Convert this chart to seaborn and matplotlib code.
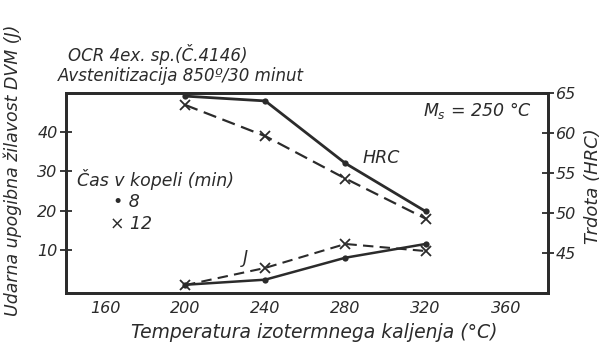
import matplotlib
matplotlib.use("Agg")
import matplotlib.pyplot as plt
import seaborn as sns
import pandas as pd

# Isothermal hardening temperatures (°C)
temperature = [200, 240, 280, 320]

# Hardness (HRC) for bath times of 8 and 12 minutes
hrc_8min = [64.6, 64.0, 56.2, 50.2]
hrc_12min = [63.5, 59.6, 54.3, 49.3]

# Impact toughness DVM (J) for bath times of 8 and 12 minutes
toughness_8min = [1.1, 2.4, 8.0, 11.5]
toughness_12min = [1.0, 5.4, 11.5, 9.7]

x_ticks = [160, 200, 240, 280, 320, 360]
left_ticks = [10, 20, 30, 40]
right_ticks = [45, 50, 55, 60, 65]

sns.set_theme(style="white")
plt.rcParams["font.family"] = ["DejaVu Sans"]
plt.rcParams["font.style"] = "italic"
plt.rcParams["mathtext.default"] = "it"

ink = "#2b2b2b"
fs_tick = 11.5
fs_text = 12.5

fig = plt.figure(figsize=(6.04, 3.48), dpi=100)
ax = fig.add_axes([0.109, 0.158, 0.798, 0.575])
ax2 = ax.twinx()

df = pd.DataFrame({
    "T": temperature,
    "hrc8": hrc_8min, "hrc12": hrc_12min,
    "j8": toughness_8min, "j12": toughness_12min,
})

dot = dict(marker="o", markersize=4.5, markeredgewidth=0, markerfacecolor=ink)
cross = dict(marker="x", markersize=7, markeredgewidth=1.3,
             markeredgecolor=ink)

# Hardness curves on the right axis
sns.lineplot(data=df, x="T", y="hrc8", ax=ax2, color=ink, lw=2.0, **dot)
sns.lineplot(data=df, x="T", y="hrc12", ax=ax2, color=ink, lw=1.6,
             linestyle=(0, (6, 3)), **cross)

# Toughness curves on the left axis
sns.lineplot(data=df, x="T", y="j8", ax=ax, color=ink, lw=1.8, **dot)
sns.lineplot(data=df, x="T", y="j12", ax=ax, color=ink, lw=1.5,
             linestyle=(0, (5, 3)), **cross)

ax.set_xlim(140.5, 381)
ax.set_ylim(-1, 50)
ax2.set_ylim(40, 65)

ax.set_xticks(x_ticks)
ax.set_xticklabels([str(v) for v in x_ticks])
ax.set_yticks(left_ticks)
ax.set_yticklabels([str(v) for v in left_ticks])
ax2.set_yticks(right_ticks)
ax2.set_yticklabels([str(v) for v in right_ticks])

for a in (ax, ax2):
    a.tick_params(direction="inout", length=8, width=1.3, colors=ink,
                  labelsize=fs_tick, pad=2)
    for s in a.spines.values():
        s.set_linewidth(2.0)
        s.set_color(ink)
    a.grid(False)

ax.set_xlabel("Temperatura izotermnega kaljenja (°C)", fontsize=13.5,
              color=ink)
ax.xaxis.set_label_coords(0.515, -0.15)
ax.set_ylabel("Udarna upogibna žilavost DVM (J)", fontsize=12.5,
              color=ink)
ax.yaxis.set_label_coords(-0.09, 0.615)
ax2.set_ylabel("Trdota (HRC)", fontsize=13, color=ink)
ax2.yaxis.set_label_coords(1.076, 0.535)

# Annotations inside the plot
ax.text(373, 45.6, r"$M_s$ = 250 °C", ha="right", va="center",
        fontsize=fs_text, color=ink)
ax.text(288.5, 33.4, "HRC", ha="left", va="center", fontsize=fs_text,
        color=ink)
ax.text(229, 7.8, "J", ha="left", va="center", fontsize=fs_text, color=ink)
ax.text(146, 28, "Čas v kopeli (min)", ha="left", va="center",
        fontsize=fs_text, color=ink)
ax.text(164, 22.2, "• 8", ha="left", va="center", fontsize=fs_text,
        color=ink)
ax.text(162.5, 16.6, "× 12", ha="left", va="center", fontsize=fs_text,
        color=ink)

# Heading above the axes
fig.text(0.113, 0.842, "OCR 4ex. sp.(Č.4146)", ha="left", va="center",
         fontsize=12, color=ink)
fig.text(0.096, 0.782, "Avstenitizacija 850º/30 minut", ha="left",
         va="center", fontsize=12, color=ink)

fig.savefig("out.png", dpi=100, facecolor="white")
